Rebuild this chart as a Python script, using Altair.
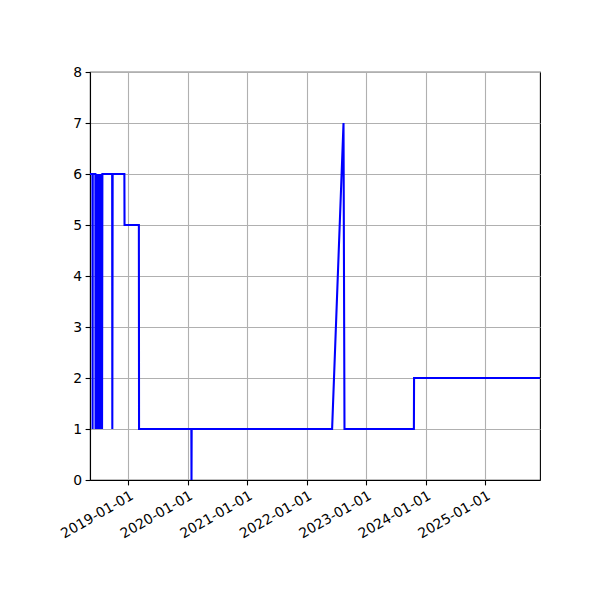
import altair as alt
import pandas as pd

dates = [
    "2018-05-11", "2018-05-26", "2018-05-27", "2018-05-28", "2018-06-13",
    "2018-06-14", "2018-06-16", "2018-06-17", "2018-06-19", "2018-06-21",
    "2018-06-22", "2018-06-24", "2018-06-26", "2018-06-27", "2018-06-29",
    "2018-07-01", "2018-07-03", "2018-07-04", "2018-07-06", "2018-07-08",
    "2018-07-10", "2018-07-12", "2018-07-14", "2018-07-16", "2018-07-18",
    "2018-07-20", "2018-07-22", "2018-07-24", "2018-07-26", "2018-09-24",
    "2018-09-25", "2018-09-27", "2018-12-08", "2018-12-09", "2019-03-07",
    "2019-03-08", "2020-01-23", "2020-01-24", "2020-01-25", "2022-06-05",
    "2022-08-14", "2022-08-20", "2023-10-20", "2023-10-21", "2025-12-02",
]
values = [
    6, 6, 1, 6, 6,
    1, 6, 1, 6, 1,
    6, 1, 6, 1, 6,
    1, 6, 1, 6, 1,
    6, 1, 6, 1, 6,
    1, 6, 1, 6, 6,
    1, 6, 6, 5, 5,
    1, 1, 0, 1, 1,
    7, 1, 1, 2, 2,
]
tick_years = [2019, 2020, 2021, 2022, 2023, 2024, 2025]
y_ticks = [0, 1, 2, 3, 4, 5, 6, 7, 8]

df = pd.DataFrame({"date": dates, "value": values})

x_axis = alt.Axis(
    values=[alt.DateTime(year=y, month=1, date=1, utc=True) for y in tick_years],
    labelExpr="utcFormat(datum.value, '%Y-%m-%d')",
    labelAngle=-30,
    labelAlign="right",
    labelBaseline="top",
    labelOverlap=False,
    labelBound=False,
    title=None,
)
y_axis = alt.Axis(values=y_ticks, format="d", title=None, labelOverlap=False)

chart = (
    alt.Chart(df)
    .mark_line(color="#0000ff", strokeWidth=2.08, clip=True)
    .encode(
        x=alt.X(
            "date:T",
            scale=alt.Scale(
                type="utc",
                domain=[
                    alt.DateTime(year=2018, month=5, date=11, utc=True),
                    alt.DateTime(year=2025, month=12, date=2, utc=True),
                ],
            ),
            axis=x_axis,
        ),
        y=alt.Y("value:Q", scale=alt.Scale(domain=[0, 8], nice=False), axis=y_axis),
    )
    .properties(
        width=450,
        height=408,
        autosize=alt.AutoSizeParams(type="none"),
        padding={"left": 82, "top": 64, "right": 52, "bottom": 104},
    )
    .configure_view(stroke="black", strokeWidth=1.1)
    .configure_axis(
        labelFont="DejaVu Sans",
        labelFontSize=13.9,
        labelColor="black",
        tickColor="black",
        tickSize=4.9,
        tickWidth=1.1,
        labelPadding=3.5,
        domainColor="black",
        domainWidth=1.1,
        grid=True,
        gridColor="#b0b0b0",
        gridWidth=1.1,
    )
)

chart.save("out.html", embed_options={"renderer": "svg", "actions": False})
